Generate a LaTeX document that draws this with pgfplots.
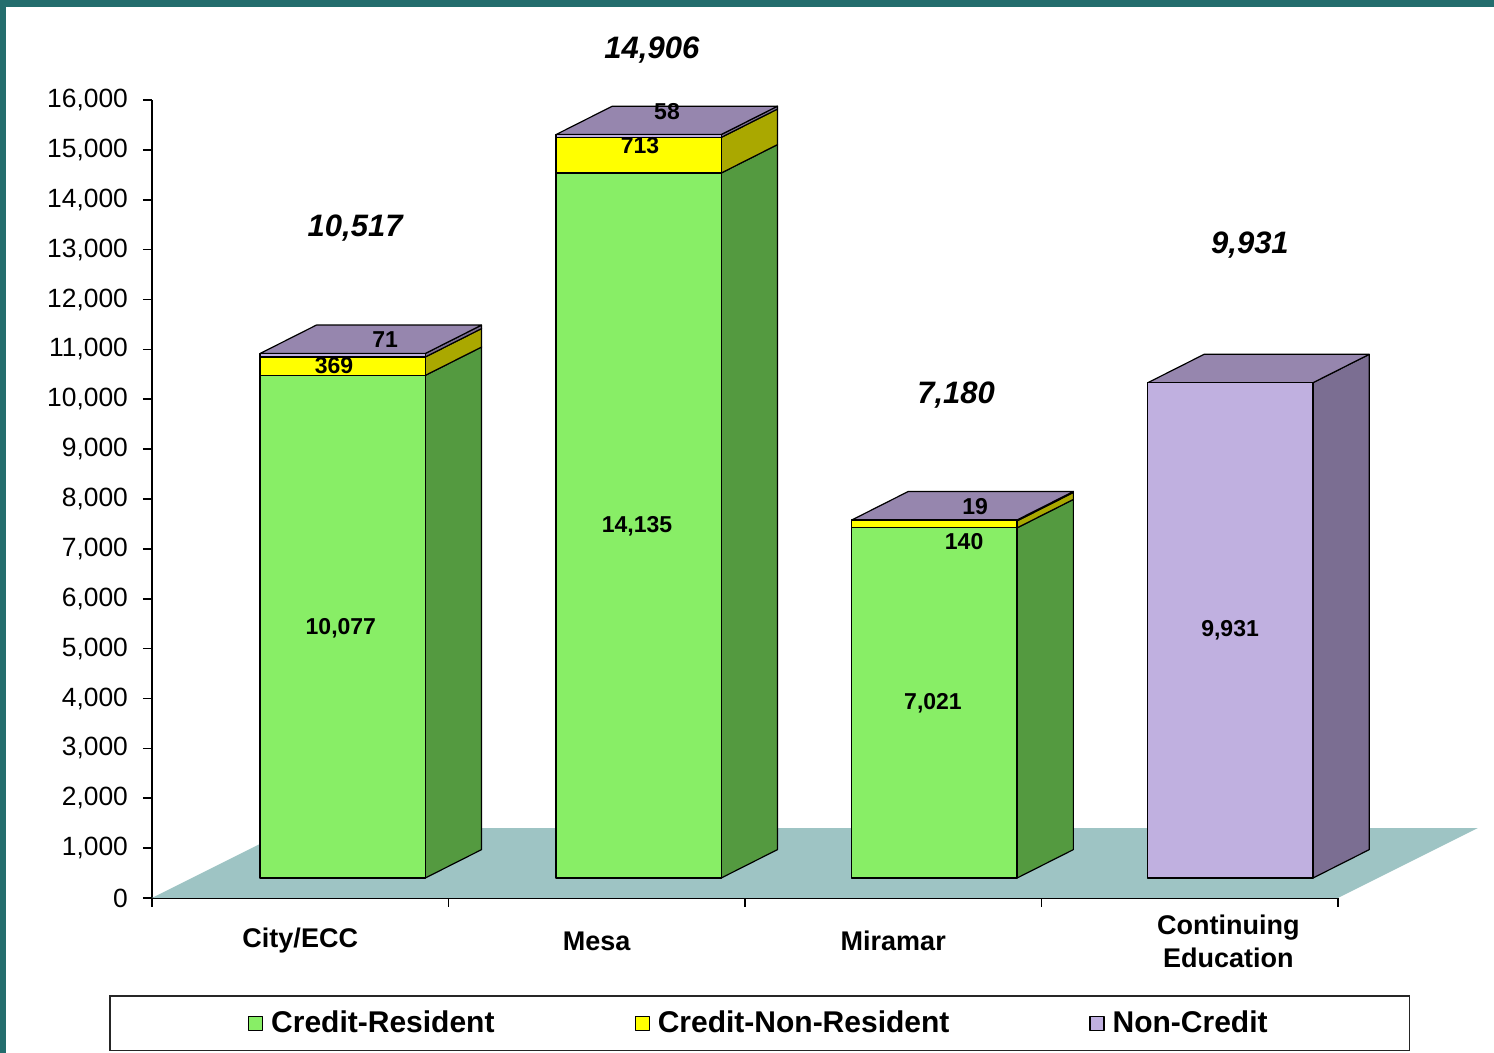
\documentclass[border=0pt]{standalone}
\usepackage{pgfplots}
\pgfplotsset{compat=1.18}
\usepackage{fontspec}
\setmainfont{Liberation Sans}
\definecolor{gfront}{HTML}{88EE66}
\definecolor{gside}{HTML}{549A40}
\definecolor{yfront}{HTML}{FFFF00}
\definecolor{yside}{HTML}{AAA800}
\definecolor{pfront}{HTML}{C0B0E0}
\definecolor{ptop}{HTML}{9686AE}
\definecolor{pside}{HTML}{7B6E92}
\definecolor{floorc}{HTML}{9EC4C4}
\definecolor{framec}{HTML}{236D6D}

\pgfplotsset{
  common/.style={at={(76pt,77.5pt)}, anchor=south west, scale only axis,
    width=593pt, height=399pt, xmin=0, xmax=4, clip=false},
  face/.style={draw=black, line width=0.6pt, line join=round},
}
\tikzset{
  seglab/.style={font=\fontsize{11.5}{13}\selectfont\bfseries},
  totlab/.style={font=\fontsize{15.5}{18}\selectfont\bfseries\itshape},
}

\begin{document}
\begin{tikzpicture}[x=1pt,y=1pt]
\fill[white] (0,0) rectangle (747,526.5);
\fill[framec] (0,523) rectangle (747,526.5);
\fill[framec] (0,0) rectangle (3,526.5);

% back layer: axes, floor, side and top faces
\begin{axis}[common, ymin=0, ymax=16000,
  axis x line=bottom, axis y line=left,
  axis line style={-, line width=0.8pt, black},
  tick align=outside,
  major tick length=4.5pt,
  every tick/.style={black, line width=0.8pt},
  ytick={0,1000,...,16000},
  scaled y ticks=false,
  /pgf/number format/fixed,
  /pgf/number format/assume math mode=true,
  /pgf/number format/1000 sep={,},
  yticklabel style={font=\fontsize{13.2}{15}\selectfont, xshift=-4pt},
  xtick={0,1,2,3,4}, xticklabels={},
  extra x ticks={0.5,1.5,2.5,3.63},
  extra x tick labels={City/ECC, Mesa, Miramar, {Continuing\\Education}},
  extra x tick style={major tick length=0pt,
    xticklabel style={font=\fontsize{13.5}{16.5}\selectfont\bfseries, align=center, anchor=center, yshift=-21.5pt}},
]
\addplot[fill=floorc, draw=none] coordinates {(0,0) (4,0) (4.472,1403) (0.472,1403)} -- cycle;
% City/ECC
\addplot[face, fill=gside] coordinates {(0.9215,400) (1.1115,970) (1.1115,11047) (0.9215,10477)} -- cycle;
\addplot[face, fill=yside] coordinates {(0.9215,10477) (1.1115,11047) (1.1115,11416) (0.9215,10846)} -- cycle;
\addplot[face, fill=pside] coordinates {(0.9215,10846) (1.1115,11416) (1.1115,11487) (0.9215,10917)} -- cycle;
\addplot[face, fill=ptop] coordinates {(0.3645,10917) (0.5545,11487) (1.1115,11487) (0.9215,10917)} -- cycle;
% Mesa
\addplot[face, fill=gside] coordinates {(1.9195,400) (2.1095,970) (2.1095,15105) (1.9195,14535)} -- cycle;
\addplot[face, fill=yside] coordinates {(1.9195,14535) (2.1095,15105) (2.1095,15818) (1.9195,15248)} -- cycle;
\addplot[face, fill=pside] coordinates {(1.9195,15248) (2.1095,15818) (2.1095,15876) (1.9195,15306)} -- cycle;
\addplot[face, fill=ptop] coordinates {(1.3625,15306) (1.5525,15876) (2.1095,15876) (1.9195,15306)} -- cycle;
% Miramar
\addplot[face, fill=gside] coordinates {(2.9175,400) (3.1075,970) (3.1075,7991) (2.9175,7421)} -- cycle;
\addplot[face, fill=yside] coordinates {(2.9175,7421) (3.1075,7991) (3.1075,8131) (2.9175,7561)} -- cycle;
\addplot[face, fill=pside] coordinates {(2.9175,7561) (3.1075,8131) (3.1075,8150) (2.9175,7580)} -- cycle;
\addplot[face, fill=ptop] coordinates {(2.3605,7580) (2.5505,8150) (3.1075,8150) (2.9175,7580)} -- cycle;
% Continuing Education
\addplot[face, fill=pside] coordinates {(3.9155,400) (4.1055,970) (4.1055,10901) (3.9155,10331)} -- cycle;
\addplot[face, fill=ptop] coordinates {(3.3585,10331) (3.5485,10901) (4.1055,10901) (3.9155,10331)} -- cycle;
\end{axis}

% front layer: stacked bars (front faces raised by 400 through the y range), legend
\begin{axis}[common, ymin=-400, ymax=15600, hide axis,
  ybar stacked, bar width=0.557,
  legend columns=3,
  legend style={at={(0.5125,-0.157)}, anchor=center, draw=black!85, line width=0.8pt,
    font=\fontsize{15}{18}\selectfont\bfseries, inner xsep=69pt, inner ysep=5.5pt,
    /tikz/every even column/.append style={column sep=68pt},
    /tikz/every odd column/.append style={column sep=2pt}},
]
\addplot[face, fill=gfront, legend image code/.code={\draw[fill=gfront, draw=black, line width=0.6pt] (0pt,-3.5pt) rectangle (7pt,3.5pt);}]
  coordinates {(0.643,10077) (1.641,14135) (2.639,7021) (3.637,0)};
\addlegendentry{Credit-Resident}
\addplot[face, fill=yfront, legend image code/.code={\draw[fill=yfront, draw=black, line width=0.6pt] (0pt,-3.5pt) rectangle (7pt,3.5pt);}]
  coordinates {(0.643,369) (1.641,713) (2.639,140) (3.637,0)};
\addlegendentry{Credit-Non-Resident}
\addplot[face, fill=pfront, legend image code/.code={\draw[fill=pfront, draw=black, line width=0.6pt] (0pt,-3.5pt) rectangle (7pt,3.5pt);}]
  coordinates {(0.643,71) (1.641,58) (2.639,19) (3.637,9931)};
\addlegendentry{Non-Credit}
\end{axis}

% label layer
\begin{axis}[common, ymin=0, ymax=16000, hide axis]
% segment labels
\node[seglab] at (0.637,5411) {10,077};
\node[seglab] at (1.636,7455) {14,135};
\node[seglab] at (2.634,3908) {7,021};
\node[seglab] at (3.636,5371) {9,931};
\node[seglab] at (0.614,10681) {369};
\node[seglab] at (1.646,15090) {713};
\node[seglab] at (2.739,7154) {140};
\node[seglab] at (0.786,11203) {71};
\node[seglab] at (1.737,15771) {58};
\node[seglab] at (2.776,7856) {19};
% totals
\node[totlab] at (0.685,13427) {10,517};
\node[totlab] at (1.686,16994) {14,906};
\node[totlab] at (2.712,10080) {7,180};
\node[totlab] at (3.703,13086) {9,931};
\end{axis}
\pgfresetboundingbox
\path (0,0) rectangle (747,526.5);
\end{tikzpicture}
\end{document}
